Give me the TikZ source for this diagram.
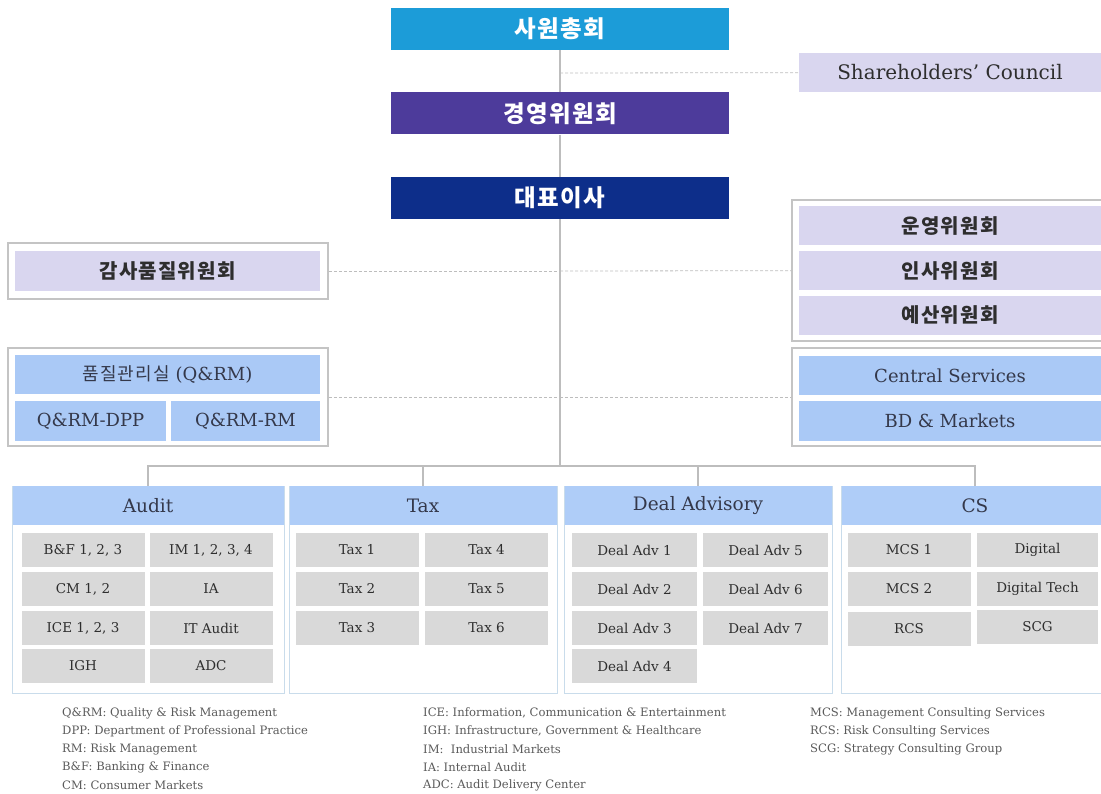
\documentclass[tikz,border=0pt]{standalone}
\usepackage{fontspec}
\setmainfont{DejaVu Serif}
\newfontfamily\kr[LetterSpace=6]{Noto Sans CJK KR}
\usepackage{tikz}

\definecolor{cyanbox}{HTML}{1C9CD8}
\definecolor{purplebox}{HTML}{4D3B9B}
\definecolor{navybox}{HTML}{0D2E8A}
\definecolor{lav}{HTML}{D9D6EF}
\definecolor{svcblue}{HTML}{AAC9F6}
\definecolor{hdblue}{HTML}{AFCDF8}
\definecolor{unitgray}{HTML}{D9D9D9}
\definecolor{grp}{HTML}{C4C4C4}
\definecolor{divline}{HTML}{C9DCEB}
\definecolor{linegray}{HTML}{BDBDBD}
\definecolor{txt}{HTML}{2E2E2E}
\definecolor{txtb}{HTML}{34384A}
\definecolor{legtxt}{HTML}{5A5A5A}

\begin{document}
\begin{tikzpicture}[x=1pt, y=-1pt,
    top/.style = {minimum width=338pt, minimum height=42pt, inner sep=0pt, text=white, font=\kr\bfseries\fontsize{23.5}{26}\selectfont},
    comm/.style = {fill=lav, minimum width=302pt, minimum height=39pt, inner sep=0pt, text=txt, font=\kr\bfseries\fontsize{20}{22}\selectfont},
    svc/.style = {fill=svcblue, minimum width=302pt, minimum height=39pt, inner sep=0pt, text=txtb, font=\fontsize{18}{20}\selectfont},
    group/.style = {draw=grp, line width=1.5pt, fill=white, inner sep=0pt},
    div/.style = {draw=divline, line width=1pt, fill=white, minimum width=272pt, minimum height=207pt, inner sep=0pt},
    head/.style = {fill=hdblue, minimum width=271pt, minimum height=39pt, inner sep=0pt, text=txtb, font=\fontsize{18.5}{20}\selectfont},
    unit/.style = {fill=unitgray, minimum width=123pt, minimum height=34pt, inner sep=0pt, text=txt, font=\fontsize{13.5}{15}\selectfont},
    legend/.style = {anchor=west, inner sep=0pt, text=legtxt, font=\fontsize{11.6}{13}\selectfont},
    trunk/.style = {draw=linegray, line width=1.2pt},
    dotline/.style = {draw=linegray, line width=0.8pt, dash pattern=on 3pt off 2pt}]
    \useasboundingbox (0,0) rectangle (1101,794);

    % board
    \node[top, fill=cyanbox] (gm) at (560,29) {사원총회};
    \node[top, fill=purplebox] (mc) at (560,113.5) {경영위원회};
    \node[top, fill=navybox] (ceo) at (560,198) {대표이사};
    \node[comm, font=\fontsize{20}{22}\selectfont, text=txt, fill=lav] (share) at (950,72.5) {Shareholders' Council};

    % committees
    \node[group, minimum width=320pt, minimum height=56pt] (aqcg) at (168,271) {};
    \node[comm, minimum width=305pt, minimum height=40pt] (aqc) at (167.5,271) {감사품질위원회};
    \node[group, minimum width=316pt, minimum height=141pt] (comg) at (950,270.5) {};
    \node[comm] (opc) at (950,226) {운영위원회};
    \node[comm] (hrc) at (950,271) {인사위원회};
    \node[comm] (bgc) at (950,315.5) {예산위원회};

    % quality & services
    \node[group, minimum width=320pt, minimum height=98pt] (qrmg) at (168,397) {};
    \node[svc, minimum width=305pt] (qrm) at (167.5,374.5) {{\kr 품질관리실} (Q\&RM)};
    \node[svc, minimum width=151pt, minimum height=40pt] (dpp) at (90.5,421) {Q\&RM-DPP};
    \node[svc, minimum width=149pt, minimum height=40pt] (rm) at (245.5,421) {Q\&RM-RM};
    \node[group, minimum width=316pt, minimum height=98pt] (svcg) at (950,397) {};
    \node[svc] (cs) at (950,375.5) {Central Services};
    \node[svc, minimum height=40pt] (bd) at (950,421) {BD \& Markets};

    % trunk
    \coordinate (bus) at (560,466);
    \coordinate (s1) at (560,73);
    \coordinate (s2) at (560,271);
    \coordinate (s3) at (560,397);
    \draw[trunk] (gm) -- (mc);
    \draw[trunk] (mc) -- (ceo);
    \draw[trunk] (ceo) -- (bus);
    \draw[dotline] (s1) -- (share);
    \draw[dotline] (aqcg) -- (s2);
    \draw[dotline] (s2) -- (comg);
    \draw[dotline] (qrmg) -- (s3);
    \draw[dotline] (s3) -- (svcg);

    % divisions
    \node[div] (audit) at (148,589.5) {};
    \node[head] (audith) at (148,505.5) {Audit};
    \node[div, minimum width=268pt] (tax) at (423,589.5) {};
    \node[head, minimum width=267pt] (taxh) at (423,505.5) {Tax};
    \node[div, minimum width=268pt] (deal) at (698,589.5) {};
    \node[head, minimum width=267pt] (dealh) at (698,505.5) {Deal Advisory};
    \node[div, minimum width=268pt] (csd) at (975,589.5) {};
    \node[head, minimum width=267pt] (csh) at (975,505.5) {CS};
    \draw[trunk] (audit.north) |- (bus) -| (csd.north);
    \draw[trunk] (tax.north) |- (bus);
    \draw[trunk] (deal.north) |- (bus);

    \node[unit] (bf) at (83,550) {B\&F 1, 2, 3};
    \node[unit] (cm) at (83,589) {CM 1, 2};
    \node[unit] (ice) at (83,628) {ICE 1, 2, 3};
    \node[unit] (igh) at (83,666) {IGH};
    \node[unit] (im) at (211,550) {IM 1, 2, 3, 4};
    \node[unit] (ia) at (211,589) {IA};
    \node[unit] (ita) at (211,628) {IT Audit};
    \node[unit] (adc) at (211,666) {ADC};

    \node[unit] (tx1) at (357,550) {Tax 1};
    \node[unit] (tx2) at (357,589) {Tax 2};
    \node[unit] (tx3) at (357,628) {Tax 3};
    \node[unit] (tx4) at (486.5,550) {Tax 4};
    \node[unit] (tx5) at (486.5,589) {Tax 5};
    \node[unit] (tx6) at (486.5,628) {Tax 6};

    \node[unit, minimum width=125pt] (da1) at (634.5,550) {Deal Adv 1};
    \node[unit, minimum width=125pt] (da2) at (634.5,589) {Deal Adv 2};
    \node[unit, minimum width=125pt] (da3) at (634.5,628) {Deal Adv 3};
    \node[unit, minimum width=125pt] (da4) at (634.5,666) {Deal Adv 4};
    \node[unit, minimum width=125pt] (da5) at (765.5,550) {Deal Adv 5};
    \node[unit, minimum width=125pt] (da6) at (765.5,589) {Deal Adv 6};
    \node[unit, minimum width=125pt] (da7) at (765.5,628) {Deal Adv 7};

    \node[unit] (mcs1) at (909,550) {MCS 1};
    \node[unit] (mcs2) at (909,589) {MCS 2};
    \node[unit] (rcs) at (909,629) {RCS};
    \node[unit, minimum width=121pt] (dg) at (1037.5,550) {Digital};
    \node[unit, minimum width=121pt] (dgt) at (1037.5,589) {Digital Tech};
    \node[unit, minimum width=121pt] (scg) at (1037.5,627) {SCG};

    % abbreviations
    \node[legend] (l1) at (62,713) {Q\&RM: Quality \& Risk Management};
    \node[legend] (l2) at (62,731) {DPP: Department of Professional Practice};
    \node[legend] (l3) at (62,749) {RM: Risk Management};
    \node[legend] (l4) at (62,767) {B\&F: Banking \& Finance};
    \node[legend] (l5) at (62,785) {CM: Consumer Markets};
    \node[legend] (l6) at (423,713) {ICE: Information, Communication \& Entertainment};
    \node[legend] (l7) at (423,731) {IGH: Infrastructure, Government \& Healthcare};
    \node[legend] (l8) at (423,749) {IM:\ \ Industrial Markets};
    \node[legend] (l9) at (423,767) {IA: Internal Audit};
    \node[legend] (l10) at (423,785) {ADC: Audit Delivery Center};
    \node[legend] (l11) at (810,713) {MCS: Management Consulting Services};
    \node[legend] (l12) at (810,731) {RCS: Risk Consulting Services};
    \node[legend] (l13) at (810,749) {SCG: Strategy Consulting Group};
\end{tikzpicture}
\end{document}
